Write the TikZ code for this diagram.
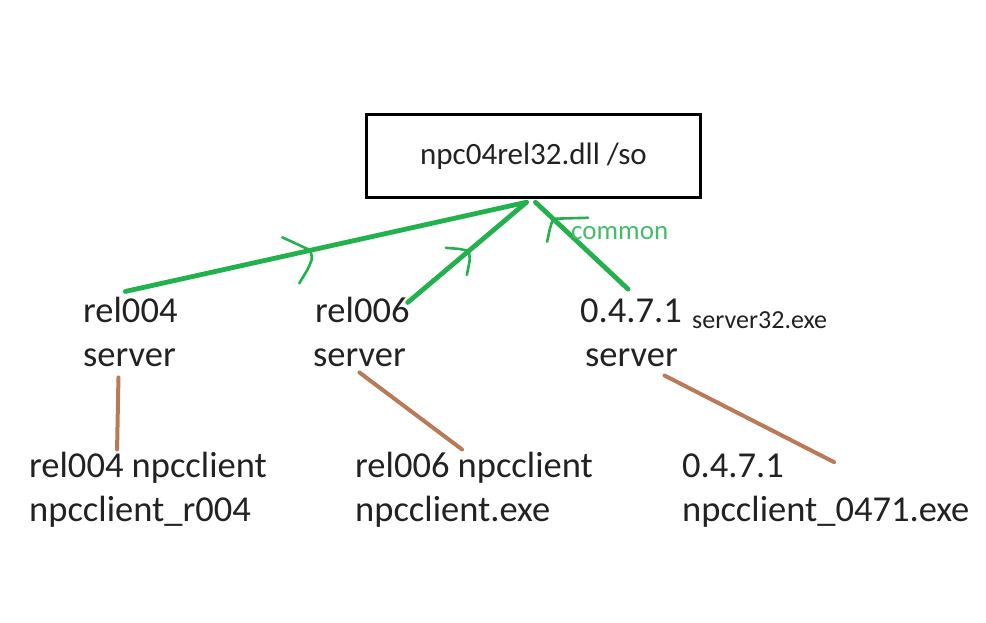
\documentclass[tikz,border=0pt]{standalone}
\usepackage{fontspec}
\setmainfont{Carlito}
\usepackage{tikz}
\usetikzlibrary{positioning, calc}
\definecolor{PaintGreen}{HTML}{22B14C}
\definecolor{PaintBrown}{HTML}{B97A57}
\definecolor{TextGrey}{HTML}{222222}
\newcommand{\srvfont}{\fontsize{36.5}{44}\selectfont}
\newcommand{\dllfont}{\fontsize{31}{37}\selectfont}
\newcommand{\exefont}{\fontsize{26}{31}\selectfont}

\begin{document}
\begin{tikzpicture}[x=1pt, y=-1pt,
    lbl/.style={anchor=base west, inner sep=0pt, text=TextGrey, font=\srvfont},
    uses/.style={PaintGreen, line width=4.8pt, line cap=round},
    tick/.style={PaintGreen, line width=2.6pt, line cap=round, line join=round, rounded corners=2pt},
    runs/.style={PaintBrown, line width=4pt, line cap=round}]
  \useasboundingbox (0,0) rectangle (986,622);
  % Shared library
  \node[draw=black, line width=3.5pt, minimum width=334pt, minimum height=83pt,
        inner sep=0pt, text=TextGrey, font=\dllfont] (dll) at (533.5,156) {npc04rel32.dll /so};
  \coordinate (hub) at ($(dll.south)+(-7,3)$);
  \coordinate (hubR) at ($(dll.south)+(2,3)$);
  % Servers
  \node[lbl] (s4a) at (83,322) {rel004};
  \node[lbl] (s4b) at (83,366) {server};
  \node[lbl] (s6a) at (315,322) {rel006};
  \node[lbl] (s6b) at (313,366) {server};
  \node[lbl] (s7a) at (580,322) {0.4.7.1};
  \node[lbl, font=\exefont] (s7exe) at (692,328) {server32.exe};
  \node[lbl] (s7b) at (585,366) {server};
  % Clients
  \node[lbl] (c4a) at (29,477) {rel004 npcclient};
  \node[lbl] (c4b) at (29,521) {npcclient\_r004};
  \node[lbl] (c6a) at (355,477) {rel006 npcclient};
  \node[lbl] (c6b) at (355,521) {npcclient.exe};
  \node[lbl] (c7a) at (682,477) {0.4.7.1};
  \node[lbl] (c7b) at (682,521) {npcclient\_0471.exe};
  % Servers to library
  \coordinate (g4) at ($(s4a.north)+(-5,-5)$);
  \coordinate (g6) at ($(s6a.east)+(-2,-7)$);
  \coordinate (g7) at ($(s7a.north)+(-3,-9)$);
  \draw[uses] (g4) -- (hub);
  \draw[uses] (g6) -- (hub);
  \draw[uses] (g7) -- (hubR);
  % hand drawn arrow marks
  \coordinate (t4) at ($(g4)!0.461!(hub)$);
  \coordinate (t6) at ($(g6)!0.515!(hub)$);
  \coordinate (t7) at ($(g7)!0.81!(hubR)$);
  \draw[tick] ($(t4)+(-28,-13)$) -- ($(t4)+(-17,-8)$) -- (t4) -- ++(2,8) -- ++(-4,10) -- ++(-9,15);
  \draw[tick] ($(t6)+(-23,-3)$) -- ($(t6)+(-10,-2)$) -- (t6) -- ++(1,9) -- ++(-3,15);
  \draw[tick] ($(t7)+(35,-1)$) -- (t7) -- ++(-3,9) -- ++(-3,14);
  \node[anchor=base west, inner sep=0pt, text=PaintGreen!85!white, font=\fontsize{27}{32}\selectfont]
    (common) at (571,239) {common};
  % Clients to servers
  \draw[runs] ($(s4b.south)+(-11,11)$) -- ($(c4a.north)+(-31,-2)$);
  \draw[runs] ($(s6b.south)+(0,6)$) -- ($(c6a.north)+(-12,-2)$);
  \draw[runs] ($(s7b.south)+(33,9)$) -- ($(c7a.north east)+(50,9)$);
\end{tikzpicture}
\end{document}
